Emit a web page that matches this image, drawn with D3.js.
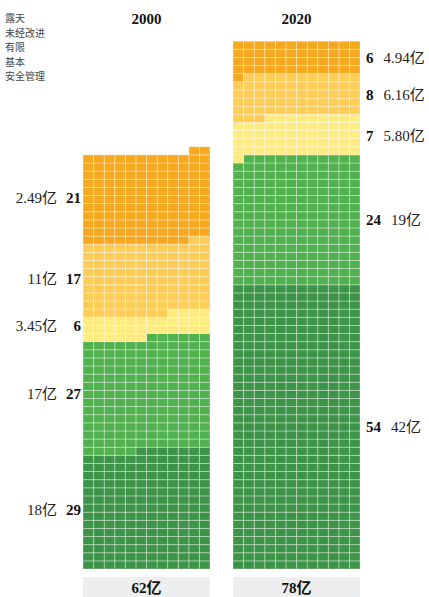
<!DOCTYPE html>
<html><head><meta charset="utf-8">
<script src="https://cdn.jsdelivr.net/npm/d3@7"></script>
<style>
body{margin:0;background:#fff;}
svg{display:block;}
</style>
</head><body>
<svg id="c" width="429" height="597"></svg>
<script>
// categories top-down (legend order)
const categories = ["露天","未经改进","有限","基本","安全管理"];
const years = ["2000","2020"];
const totals = ["62亿","78亿"];
// percentages shown (top-down)
const pct2000 = [21,17,6,27,29];
const pct2020 = [6,8,7,24,54];
// population labels (top-down)
const pop2000 = ["2.49亿","11亿","3.45亿","17亿","18亿"];
const pop2020 = ["4.94亿","6.16亿","5.80亿","19亿","42亿"];
// cells: one cell = 0.1亿 people (top-down)
const cells2000 = [132,106,34,167,175];
const cells2020 = [49,62,58,191,420];
const colors = ["#F6A81E","#FDCD57","#FEEB82","#51B14F","#3D9448"];

const svg = d3.select("#c");
const nCols = 12;
const maxRows = 65;
const bottom = 569, rowH = 8.12;

const xBand = d3.scaleBand().domain(years).range([83, 360]).paddingInner(23/150).paddingOuter(0);
const cx = d3.scaleLinear().domain([0, nCols]).range([0, xBand.bandwidth()]);
const ry = d3.scaleLinear().domain([0, maxRows]).range([bottom, bottom - maxRows*rowH]);
const color = d3.scaleOrdinal().domain(categories).range(colors);

const serif = "'Liberation Serif','Times New Roman','Noto Sans CJK SC',serif";

const datasets = [
  {year:"2000", cells:cells2000, pct:pct2000, pop:pop2000, total:totals[0]},
  {year:"2020", cells:cells2020, pct:pct2020, pop:pop2020, total:totals[1]}
];

datasets.forEach(ds => {
  const x0 = xBand(ds.year);
  const order = categories.map((c,i)=>i).reverse();
  const cellData = [];
  const segs = [];
  let idx = 0;
  order.forEach(ci => {
    const start = idx;
    for (let k=0;k<ds.cells[ci];k++){
      const row = Math.floor(idx/nCols);
      const col = nCols - 1 - (idx % nCols);
      cellData.push({row, col, cat:categories[ci]});
      idx++;
    }
    segs.push({ci, start, end: idx});
  });
  const g = svg.append("g");
  g.selectAll("rect").data(cellData).join("rect")
    .attr("x", d => x0 + cx(d.col))
    .attr("y", d => ry(d.row+1))
    .attr("width", cx(1))
    .attr("height", ry(0)-ry(1))
    .attr("fill", d => color(d.cat))
    .attr("stroke", "rgba(255,255,255,0.38)")
    .attr("stroke-width", 0.9);

  svg.append("text").attr("x", x0 + xBand.bandwidth()/2).attr("y", 24)
    .attr("text-anchor","middle").attr("font-family", serif)
    .attr("font-weight","bold").attr("font-size",15).attr("fill","#111").text(ds.year);

  svg.append("rect").attr("x", x0).attr("y", 577).attr("width", xBand.bandwidth()).attr("height", 24).attr("fill","#EDEEEF");
  svg.append("text").attr("x", x0 + xBand.bandwidth()/2).attr("y", 593)
    .attr("text-anchor","middle").attr("font-family", serif)
    .attr("font-weight","bold").attr("font-size",15).attr("fill","#111").text(ds.total);

  segs.forEach(s => {
    const yc = (ry(s.start/nCols) + ry(s.end/nCols))/2 + 5;
    if (ds.year === "2000") {
      svg.append("text").attr("x", 81).attr("y", yc).attr("text-anchor","end")
        .attr("font-family", serif).attr("font-weight","bold").attr("font-size",15).attr("fill","#111")
        .text(ds.pct[s.ci]);
      svg.append("text").attr("x", 57).attr("y", yc).attr("text-anchor","end")
        .attr("font-family", serif).attr("font-size",15).attr("fill","#222")
        .text(ds.pop[s.ci]);
    } else {
      const t = svg.append("text").attr("x", x0 + xBand.bandwidth() + 6).attr("y", yc)
        .attr("font-family", serif).attr("font-size",15).attr("fill","#111");
      t.append("tspan").attr("font-weight","bold").text(ds.pct[s.ci]);
      t.append("tspan").attr("dx", 10).attr("fill","#222").text(ds.pop[s.ci]);
    }
  });
});

svg.append("g").selectAll("text").data(categories).join("text")
  .attr("x", 5).attr("y", (d,i) => 22 + i*14.5)
  .attr("font-family","'Noto Sans CJK SC',sans-serif").attr("font-size",10).attr("fill","#444")
  .text(d => d);
</script>
</body></html>
